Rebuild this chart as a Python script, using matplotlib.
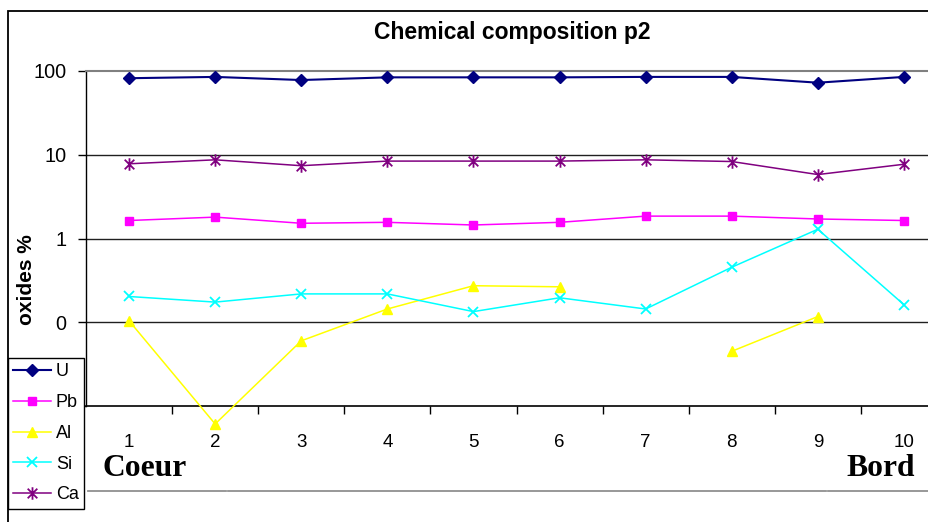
import numpy as np
import matplotlib
matplotlib.use("Agg")
import matplotlib.pyplot as plt
from matplotlib.path import Path
from matplotlib.lines import Line2D
from matplotlib.patches import Rectangle

plt.rcParams['font.family'] = ['Liberation Sans', 'DejaVu Sans']

# data (log scale, oxides %)
positions = list(range(1, 11))
tick_labels = [str(p) for p in positions]
U = [82, 85, 78, 84, 84, 84, 85, 85, 72.5, 85]
Pb = [1.64, 1.80, 1.52, 1.56, 1.45, 1.56, 1.85, 1.85, 1.71, 1.64]
Al = [0.104, 0.0061, 0.060, 0.144, 0.273, 0.265, np.nan, 0.045, 0.117, np.nan]
Si = [0.203, 0.174, 0.218, 0.218, 0.134, 0.196, 0.144, 0.454, 1.29, 0.162]
Ca = [7.8, 8.7, 7.4, 8.4, 8.4, 8.4, 8.7, 8.3, 5.8, 7.7]
series_names = ["U", "Pb", "Al", "Si", "Ca"]
y_ticks = [0.01, 0.1, 1, 10, 100]
y_tick_labels = ["", "0", "1", "10", "100"]  # bottom label sits under the legend

# excel style asterisk: an x with a vertical bar
star = Path([(-1, -1), (1, 1), (-1, 1), (1, -1), (0, -1.3), (0, 1.3)],
            [Path.MOVETO, Path.LINETO, Path.MOVETO, Path.LINETO, Path.MOVETO, Path.LINETO])

styles = {
    "U": dict(color="#000080", marker="D", ms=6.5, lw=1.5),
    "Pb": dict(color="#FF00FF", marker="s", ms=6, lw=1.1),
    "Al": dict(color="#FFFF00", marker="^", ms=7.5, lw=1.1),
    "Si": dict(color="#00FFFF", marker="x", ms=7.5, lw=1.1, mew=1.3),
    "Ca": dict(color="#800080", marker=star, ms=9, lw=1.1, mew=1.3),
}

W, H = 929, 522
fig = plt.figure(figsize=(W / 100, H / 100), dpi=100)
ax = fig.add_axes([86 / W, 1 - 406 / H, 861 / W, 335 / H])

handles = []
for name, vals in zip(series_names, [U, Pb, Al, Si, Ca]):
    ln, = ax.plot(positions, vals, clip_on=False, zorder=3, **styles[name])
    handles.append(ln)

ax.set_yscale("log")
ax.set_ylim(0.01, 100)
ax.set_yticks(y_ticks)
ax.set_yticklabels(y_tick_labels)
ax.yaxis.set_minor_locator(matplotlib.ticker.NullLocator())
ax.set_xlim(0.5, 10.5)
ax.set_xticks(positions)
ax.set_xticklabels(tick_labels)
ax.set_xticks(np.arange(1.5, 10.5, 1), minor=True)
ax.tick_params(axis="x", which="major", length=0, labelsize=13.5, pad=20)
ax.tick_params(axis="x", which="minor", length=6, width=1, direction="out")
ax.tick_params(axis="y", which="major", length=6, width=1, labelsize=14.3, pad=8)

for v in [0.1, 1, 10]:
    ax.axhline(v, color="#202020", lw=1.0, zorder=1)
ax.spines["top"].set_color("#808080")
ax.spines["top"].set_linewidth(1.5)
ax.spines["right"].set_visible(False)
ax.spines["left"].set_linewidth(1.0)
ax.spines["bottom"].set_linewidth(1.2)

ax.set_ylabel("oxides %", fontsize=15, fontweight="bold")
ax.yaxis.set_label_coords(-0.058, 0.376)

fig.text(512 / W, 1 - 32 / H, "Chemical composition p2", fontsize=16.5,
         fontweight="bold", ha="center", va="center")
fig.text(103 / W, 1 - 476 / H, "Coeur", family="Liberation Serif",
         fontsize=22.7, fontweight="bold", ha="left", va="baseline")
fig.text(915 / W, 1 - 476 / H, "Bord", family="Liberation Serif",
         fontsize=22.7, fontweight="bold", ha="right", va="baseline")

# grey rule under the labels and the outer frame
for x0, x1 in [(88, 226), (228, 826), (828, 929)]:
    fig.add_artist(Line2D([x0 / W, x1 / W], [1 - 491 / H] * 2,
                          transform=fig.transFigure, color="#909090", lw=1.3))
fig.add_artist(Rectangle((8 / W, -0.1), 1.2, 1.1 - 11 / H, transform=fig.transFigure,
                         fill=False, edgecolor="black", lw=1.3))

leg = fig.legend(handles, series_names, loc="upper left",
                 bbox_to_anchor=(8 / W, 1 - 358 / H), borderaxespad=0,
                 fontsize=13, fancybox=False, edgecolor="black", framealpha=1,
                 handlelength=2.1, handletextpad=0.25, labelspacing=0.76,
                 borderpad=0.3)
leg.get_frame().set_linewidth(1.0)

fig.savefig("out.png", dpi=100)
